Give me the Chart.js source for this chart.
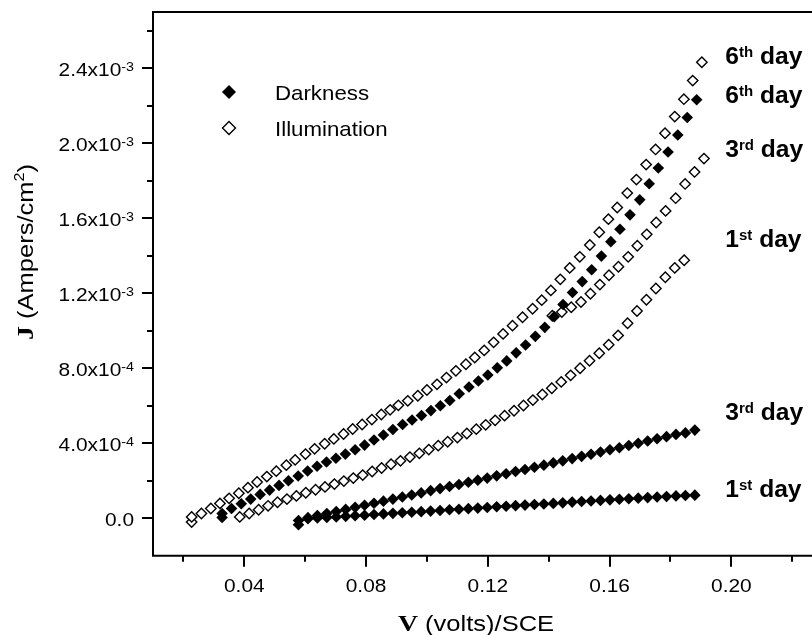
<!DOCTYPE html>
<html>
<head>
<meta charset="utf-8">
<script src="https://cdn.jsdelivr.net/npm/chart.js@4"></script>
<style>
  html, body { margin: 0; padding: 0; background: #fff; overflow: hidden; }
  #wrap { width: 832px; height: 635px; }
</style>
</head>
<body>
<div id="wrap"><canvas id="chart" width="832" height="635"></canvas></div>
<script>
// [V (volts), J (x1e-3 A/cm2)]
const darkDay1 = [[0.0578,-0.035],[0.0609,-0.003],[0.0640,0.001],[0.0671,0.004],[0.0702,0.007],[0.0733,0.010],[0.0764,0.013],[0.0795,0.016],[0.0826,0.020],[0.0857,0.023],[0.0888,0.026],[0.0919,0.029],[0.0950,0.032],[0.0981,0.035],[0.1012,0.038],[0.1043,0.041],[0.1074,0.045],[0.1105,0.048],[0.1136,0.051],[0.1167,0.054],[0.1198,0.057],[0.1229,0.061],[0.1260,0.064],[0.1291,0.067],[0.1322,0.070],[0.1353,0.073],[0.1384,0.076],[0.1415,0.079],[0.1446,0.082],[0.1477,0.086],[0.1508,0.089],[0.1539,0.092],[0.1570,0.095],[0.1601,0.098],[0.1632,0.101],[0.1663,0.104],[0.1694,0.107],[0.1725,0.110],[0.1756,0.113],[0.1787,0.116],[0.1818,0.119],[0.1849,0.121],[0.1880,0.123]];
const darkDay3 = [[0.0578,-0.012],[0.0609,0.003],[0.0640,0.014],[0.0671,0.025],[0.0702,0.036],[0.0733,0.047],[0.0764,0.058],[0.0795,0.069],[0.0826,0.080],[0.0857,0.091],[0.0888,0.102],[0.0919,0.113],[0.0950,0.124],[0.0981,0.135],[0.1012,0.147],[0.1043,0.158],[0.1074,0.169],[0.1105,0.180],[0.1136,0.192],[0.1167,0.203],[0.1198,0.214],[0.1229,0.226],[0.1260,0.237],[0.1291,0.249],[0.1322,0.260],[0.1353,0.272],[0.1384,0.283],[0.1415,0.295],[0.1446,0.306],[0.1477,0.318],[0.1508,0.330],[0.1539,0.341],[0.1570,0.353],[0.1601,0.365],[0.1632,0.376],[0.1663,0.388],[0.1694,0.400],[0.1725,0.412],[0.1756,0.424],[0.1787,0.435],[0.1818,0.447],[0.1849,0.455],[0.1880,0.470]];
const darkDay6 = [[0.0327,0.004],[0.0327,0.025],[0.0358,0.052],[0.0390,0.077],[0.0421,0.102],[0.0452,0.127],[0.0483,0.150],[0.0514,0.175],[0.0545,0.200],[0.0577,0.225],[0.0608,0.252],[0.0639,0.277],[0.0670,0.300],[0.0701,0.320],[0.0732,0.342],[0.0764,0.365],[0.0795,0.390],[0.0826,0.417],[0.0857,0.444],[0.0888,0.473],[0.0920,0.500],[0.0951,0.524],[0.0982,0.548],[0.1013,0.574],[0.1044,0.600],[0.1075,0.628],[0.1106,0.664],[0.1138,0.700],[0.1169,0.732],[0.1200,0.764],[0.1231,0.802],[0.1262,0.839],[0.1293,0.882],[0.1324,0.924],[0.1356,0.970],[0.1387,1.018],[0.1418,1.075],[0.1447,1.140],[0.1478,1.204],[0.1510,1.262],[0.1541,1.325],[0.1573,1.398],[0.1604,1.475],[0.1634,1.541],[0.1667,1.618],[0.1699,1.698],[0.1730,1.784],[0.1760,1.868],[0.1792,1.953],[0.1824,2.044],[0.1855,2.137],[0.1886,2.232]];
const illumDay1 = [[0.0385,0.007],[0.0416,0.025],[0.0447,0.045],[0.0478,0.066],[0.0509,0.085],[0.0540,0.102],[0.0571,0.119],[0.0602,0.136],[0.0634,0.152],[0.0665,0.167],[0.0696,0.182],[0.0727,0.198],[0.0758,0.214],[0.0789,0.230],[0.0820,0.249],[0.0851,0.268],[0.0882,0.288],[0.0913,0.306],[0.0944,0.326],[0.0975,0.346],[0.1006,0.366],[0.1037,0.387],[0.1068,0.408],[0.1100,0.430],[0.1131,0.452],[0.1162,0.475],[0.1193,0.498],[0.1224,0.522],[0.1255,0.547],[0.1286,0.573],[0.1317,0.601],[0.1348,0.630],[0.1379,0.660],[0.1410,0.693],[0.1441,0.727],[0.1472,0.762],[0.1503,0.800],[0.1534,0.840],[0.1566,0.880],[0.1597,0.925],[0.1628,0.975],[0.1659,1.040],[0.1690,1.105],[0.1721,1.165],[0.1752,1.225],[0.1783,1.285],[0.1814,1.335],[0.1845,1.376]];
const illumDay3 = [[0.1412,1.080],[0.1443,1.100],[0.1474,1.125],[0.1506,1.153],[0.1537,1.197],[0.1568,1.246],[0.1598,1.296],[0.1629,1.341],[0.1661,1.394],[0.1691,1.453],[0.1722,1.514],[0.1753,1.577],[0.1784,1.639],[0.1817,1.707],[0.1848,1.783],[0.1879,1.847],[0.1910,1.918]];
const illumDay6 = [[0.0227,-0.020],[0.0227,0.007],[0.0259,0.025],[0.0290,0.052],[0.0320,0.079],[0.0350,0.106],[0.0382,0.133],[0.0412,0.163],[0.0442,0.193],[0.0474,0.222],[0.0505,0.251],[0.0538,0.283],[0.0567,0.311],[0.0601,0.342],[0.0631,0.370],[0.0664,0.397],[0.0694,0.423],[0.0726,0.449],[0.0756,0.476],[0.0787,0.500],[0.0819,0.526],[0.0850,0.553],[0.0879,0.578],[0.0906,0.602],[0.0937,0.626],[0.0970,0.653],[0.1000,0.684],[0.1033,0.714],[0.1064,0.750],[0.1095,0.786],[0.1128,0.821],[0.1157,0.857],[0.1188,0.895],[0.1219,0.938],[0.1250,0.983],[0.1281,1.027],[0.1314,1.072],[0.1347,1.117],[0.1377,1.163],[0.1407,1.215],[0.1438,1.274],[0.1469,1.335],[0.1502,1.394],[0.1535,1.457],[0.1566,1.525],[0.1596,1.595],[0.1625,1.657],[0.1658,1.734],[0.1688,1.806],[0.1720,1.886],[0.1751,1.967],[0.1782,2.053],[0.1814,2.142],[0.1844,2.235],[0.1873,2.334],[0.1903,2.432]];

const xTicks = [0.04, 0.08, 0.12, 0.16, 0.20];
const xTickLabels = ['0.04', '0.08', '0.12', '0.16', '0.20'];
const xMinorTicks = [0.02, 0.06, 0.10, 0.14, 0.18, 0.22];
const yTicks = [0, 4e-4, 8e-4, 1.2e-3, 1.6e-3, 2.0e-3, 2.4e-3];
const yTickLabels = ['0.0', '4.0x10', '8.0x10', '1.2x10', '1.6x10', '2.0x10', '2.4x10'];
const yTickExps = ['', '-4', '-4', '-3', '-3', '-3', '-3'];
const yMinorTicks = [2e-4, 6e-4, 1.0e-3, 1.4e-3, 1.8e-3, 2.2e-3, 2.6e-3];

// labels at the right end of each curve
const dayNums = ['6', '6', '3', '1', '3', '1'];
const daySups = ['th', 'th', 'rd', 'st', 'rd', 'st'];
const dayLabelJ = [2.469, 2.258, 1.970, 1.490, 0.570, 0.156];
const dayLabelV = 0.198;

const jUnit = 1e-3;
const toPoints = arr => arr.map(p => ({ x: p[0], y: p[1] * jUnit }));

const sans = '"Liberation Sans", Arial, sans-serif';
const serif = '"Liberation Serif", "Times New Roman", serif';

function solid(data) {
  return { data: toPoints(data), pointStyle: 'rectRot', pointRadius: 5.8,
    backgroundColor: '#000', borderColor: '#000', borderWidth: 0 };
}
function hollow(data) {
  return { data: toPoints(data), pointStyle: 'rectRot', pointRadius: 5.2,
    backgroundColor: '#fff', borderColor: '#000', borderWidth: 1.4 };
}

// text with superscripts; parts = [text, font, rise]
function drawRich(ctx, parts, x, y, align, sx) {
  let w = 0;
  parts.forEach(p => { ctx.font = p[1]; w += ctx.measureText(p[0]).width; });
  w *= sx;
  const x0 = align === 'right' ? x - w : align === 'center' ? x - w / 2 : x;
  ctx.save();
  ctx.translate(x0, y);
  ctx.scale(sx, 1);
  ctx.textAlign = 'left';
  ctx.textBaseline = 'alphabetic';
  let cx = 0;
  parts.forEach(p => {
    ctx.font = p[1];
    ctx.fillText(p[0], cx, -(p[2] || 0));
    cx += ctx.measureText(p[0]).width;
  });
  ctx.restore();
}

function diamond(ctx, x, y, r, fill) {
  ctx.beginPath();
  ctx.moveTo(x - r, y); ctx.lineTo(x, y - r); ctx.lineTo(x + r, y); ctx.lineTo(x, y + r);
  ctx.closePath();
  if (fill) { ctx.fillStyle = '#000'; ctx.fill(); }
  else { ctx.fillStyle = '#fff'; ctx.fill(); ctx.lineWidth = 1.4; ctx.strokeStyle = '#000'; ctx.stroke(); }
}

const framePlugin = {
  id: 'frame',
  afterDraw(chart) {
    const { ctx, chartArea: a, scales: { x, y } } = chart;
    ctx.save();
    ctx.strokeStyle = '#000';
    ctx.lineWidth = 2;
    ctx.beginPath();
    ctx.moveTo(a.left, a.bottom + 1); ctx.lineTo(a.left, a.top); ctx.lineTo(a.right, a.top);
    ctx.moveTo(a.left - 1, a.bottom); ctx.lineTo(a.right, a.bottom);
    xTicks.forEach(v => { const px = Math.round(x.getPixelForValue(v)); ctx.moveTo(px, a.bottom); ctx.lineTo(px, a.bottom + 11); });
    xMinorTicks.forEach(v => { const px = Math.round(x.getPixelForValue(v)); ctx.moveTo(px, a.bottom); ctx.lineTo(px, a.bottom + 6); });
    yTicks.forEach(v => { const py = Math.round(y.getPixelForValue(v)); ctx.moveTo(a.left, py); ctx.lineTo(a.left - 11, py); });
    yMinorTicks.forEach(v => { const py = Math.round(y.getPixelForValue(v)); ctx.moveTo(a.left, py); ctx.lineTo(a.left - 6, py); });
    ctx.stroke();

    ctx.fillStyle = '#000';
    // tick labels
    xTicks.forEach((v, i) => {
      drawRich(ctx, [[xTickLabels[i], '19px ' + sans]], x.getPixelForValue(v), a.bottom + 36, 'center', 1.1);
    });
    yTicks.forEach((v, i) => {
      drawRich(ctx, [[yTickLabels[i], '19px ' + sans], [yTickExps[i], '13px ' + sans, 5]],
        a.left - 19, y.getPixelForValue(v) + 8, 'right', 1.1);
    });

    // axis titles
    drawRich(ctx, [['V', 'bold 24px ' + serif], [' (volts)/SCE', '22px ' + sans]],
      a.left + 323, a.bottom + 75, 'center', 1.16);
    ctx.save();
    ctx.translate(33, 252);
    ctx.rotate(-Math.PI / 2);
    drawRich(ctx, [['J', 'bold 24px ' + serif], [' (Ampers/cm', '22px ' + sans], ['2', '14px ' + sans, 9], [')', '22px ' + sans]],
      0, 0, 'center', 1.16);
    ctx.restore();

    // legend
    diamond(ctx, a.left + 76, a.top + 80, 7, true);
    diamond(ctx, a.left + 76, a.top + 116, 6.5, false);
    ctx.fillStyle = '#000';
    drawRich(ctx, [['Darkness', '21px ' + sans]], a.left + 122, a.top + 87.5, 'left', 1.06);
    drawRich(ctx, [['Illumination', '21px ' + sans]], a.left + 122, a.top + 123.5, 'left', 1.06);

    // day labels
    dayNums.forEach((n, i) => {
      const px = x.getPixelForValue(dayLabelV);
      const py = y.getPixelForValue(dayLabelJ[i] * jUnit) + 8.2;
      drawRich(ctx, [[n, 'bold 23px ' + sans], [daySups[i], 'bold 14px ' + sans, 7], [' day', 'bold 23px ' + sans]],
        px, py, 'left', 1.07);
    });
    ctx.restore();
  }
};

new Chart(document.getElementById('chart'), {
  type: 'scatter',
  data: {
    datasets: [
      solid(darkDay1), solid(darkDay3), solid(darkDay6),
      hollow(illumDay1), hollow(illumDay3), hollow(illumDay6)
    ]
  },
  options: {
    responsive: false,
    animation: false,
    devicePixelRatio: 1,
    layout: { padding: { left: 153, top: 12, right: 9.3, bottom: 79.3 } },
    scales: {
      x: { type: 'linear', min: 0.01, max: 0.23, display: false },
      y: { type: 'linear', min: -2e-4, max: 2.7e-3, display: false }
    },
    plugins: { legend: { display: false }, tooltip: { enabled: false } }
  },
  plugins: [framePlugin]
});
</script>
</body>
</html>
